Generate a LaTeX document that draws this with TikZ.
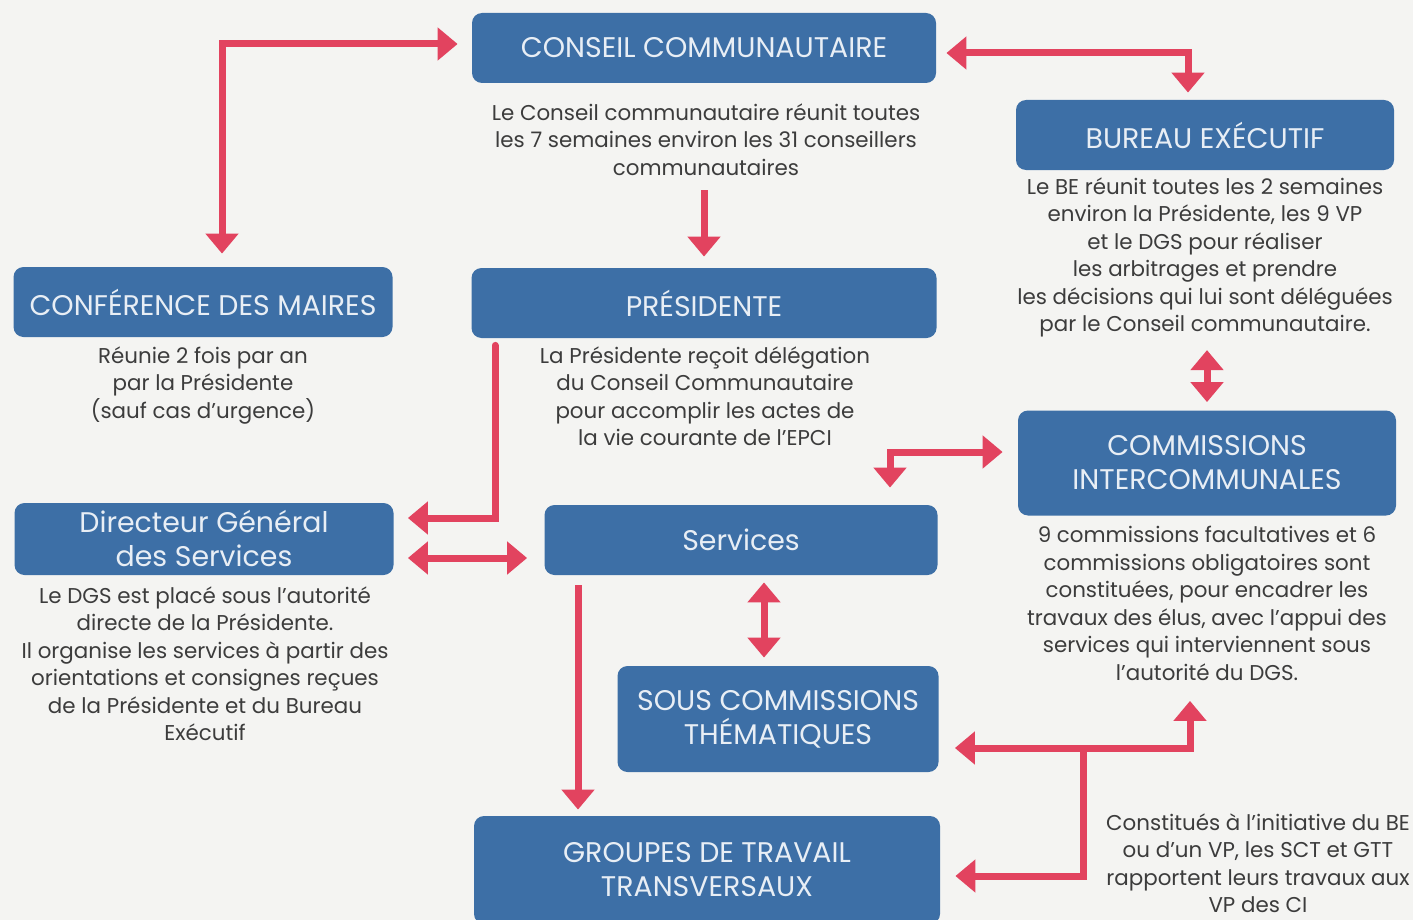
\documentclass[tikz,border=0pt]{standalone}
\usepackage{fontspec}
\setmainfont{Poppins}
\usetikzlibrary{arrows.meta}
\definecolor{boxblue}{HTML}{3D6FA6}
\definecolor{boxtext}{HTML}{E8EEF5}
\definecolor{linkred}{HTML}{E2435F}
\definecolor{txtgray}{HTML}{3C3C3C}
\definecolor{paper}{HTML}{F4F4F2}
\begin{document}
\begin{tikzpicture}[x=0.5pt, y=-0.5pt,
                box/.style={rectangle, rounded corners=5pt, fill=boxblue, text=boxtext, align=center,
                  font=\fontsize{14.2}{17}\selectfont, minimum height=35pt},
                desc/.style={anchor=north, align=center, inner sep=0pt, text=txtgray,
                  font=\fontsize{10.7}{13.75}\selectfont},
                link/.style={draw=linkred, line width=3.5pt},
                >={Triangle[width=16pt,length=10pt]}]
                \useasboundingbox (0,0) rectangle (1413,920);
                \fill[paper] (0,0) rectangle (1413,920);
                % boxes
                \node[box, minimum width=232pt] (conseil) at (704,48) {CONSEIL COMMUNAUTAIRE};
                \node[box, minimum width=189pt] (bureau) at (1205,135) {BUREAU EXÉCUTIF};
                \node[box, minimum width=189.5pt] (conf) at (203,302) {CONFÉRENCE DES MAIRES};
                \node[box, minimum width=232.5pt] (pres) at (704,303) {PRÉSIDENTE};
                \node[box, minimum width=189pt, minimum height=52.5pt] (comm) at (1207,463) {COMMISSIONS\\INTERCOMMUNALES};
                \node[box, minimum width=189.5pt, minimum height=36pt] (dgs) at (204,539) {Directeur Général\\des Services};
                \node[box, minimum width=196.5pt] (serv) at (741,540) {Services};
                \node[box, minimum width=160.5pt, minimum height=53pt] (sous) at (778,719) {SOUS COMMISSIONS\\THÉMATIQUES};
                \node[box, minimum width=233pt, minimum height=54pt] (grp) at (707,870) {GROUPES DE TRAVAIL\\TRANSVERSAUX};
                % texts
                \node[desc] (conseiltxt) at (706,103) {Le Conseil communautaire réunit toutes\\les 7 semaines environ les 31 conseillers\\communautaires};
                \node[desc] (bureautxt) at (1205,177) {Le BE réunit toutes les 2 semaines\\environ la Présidente, les 9 VP\\et le DGS pour réaliser\\les arbitrages et prendre\\les décisions qui lui sont déléguées\\par le Conseil communautaire.};
                \node[desc] (conftxt) at (203,346) {Réunie 2 fois par an\\par la Présidente\\(sauf cas d’urgence)};
                \node[desc] (prestxt) at (705,346) {La Présidente reçoit délégation\\du Conseil Communautaire\\pour accomplir les actes de\\la vie courante de l’EPCI};
                \node[desc] (dgstxt) at (205,586) {Le DGS est placé sous l’autorité\\directe de la Présidente.\\Il organise les services à partir des\\orientations et consignes reçues\\de la Présidente et du Bureau\\Exécutif};
                \node[desc] (commtxt) at (1207,526) {9 commissions facultatives et 6\\commissions obligatoires sont\\constituées, pour encadrer les\\travaux des élus, avec l’appui des\\services qui interviennent sous\\l’autorité du DGS.};
                \node[desc] (grptxt) at (1258,813) {Constitués à l’initiative du BE\\ou d’un VP, les SCT et GTT\\rapportent leurs travaux aux\\VP des CI};
                % arrows
                \draw[link, <->, shorten <=6.5pt, shorten >=7pt] ([xshift=9.5pt]conf.north) |- ([yshift=2pt]conseil.west);
                \draw[link, <->, shorten <=5pt, shorten >=3.5pt] ([yshift=-2.5pt]conseil.east) -| ([xshift=-8.5pt]bureau.north);
                \draw[link, ->, shorten >=5.5pt] ([yshift=-53.5pt]conseil.south) -- (pres.north);
                \draw[link, <->, shorten <=4pt, shorten >=4pt] ([yshift=34pt]comm.north) -- (comm.north);
                \draw[link, ->, line cap=round, shorten <=3.5pt, shorten >=7pt] ([xshift=12pt]pres.south west) |- ([yshift=10.5pt]dgs.east);
                \draw[link, <->, shorten <=7pt, shorten >=8.5pt] ([yshift=-9.5pt]dgs.east) -- ([yshift=-9.5pt]dgs.east -| serv.west);
                \draw[link, <->, shorten <=8.5pt, shorten >=7.5pt] ([xshift=74.5pt]serv.north) |- ([yshift=5.5pt]comm.west);
                \draw[link, <->, shorten <=3.5pt, shorten >=4pt] ([xshift=11.5pt]serv.south) -- ([xshift=11.5pt]serv.south |- sous.north);
                \draw[link, ->, shorten <=5pt, shorten >=3pt] ([xshift=-81.5pt]serv.south) -- ([xshift=-81.5pt]serv.south |- grp.north);
                \coordinate (fork) at (1083,748);
                \draw[link, <->, shorten >=8pt] ([xshift=-8.5pt,yshift=-92.5pt]comm.south) |- ([yshift=-14.5pt]sous.east);
                \draw[link, ->, shorten >=7.5pt] (fork) |- ([yshift=-3pt]grp.east);
\end{tikzpicture}
\end{document}
